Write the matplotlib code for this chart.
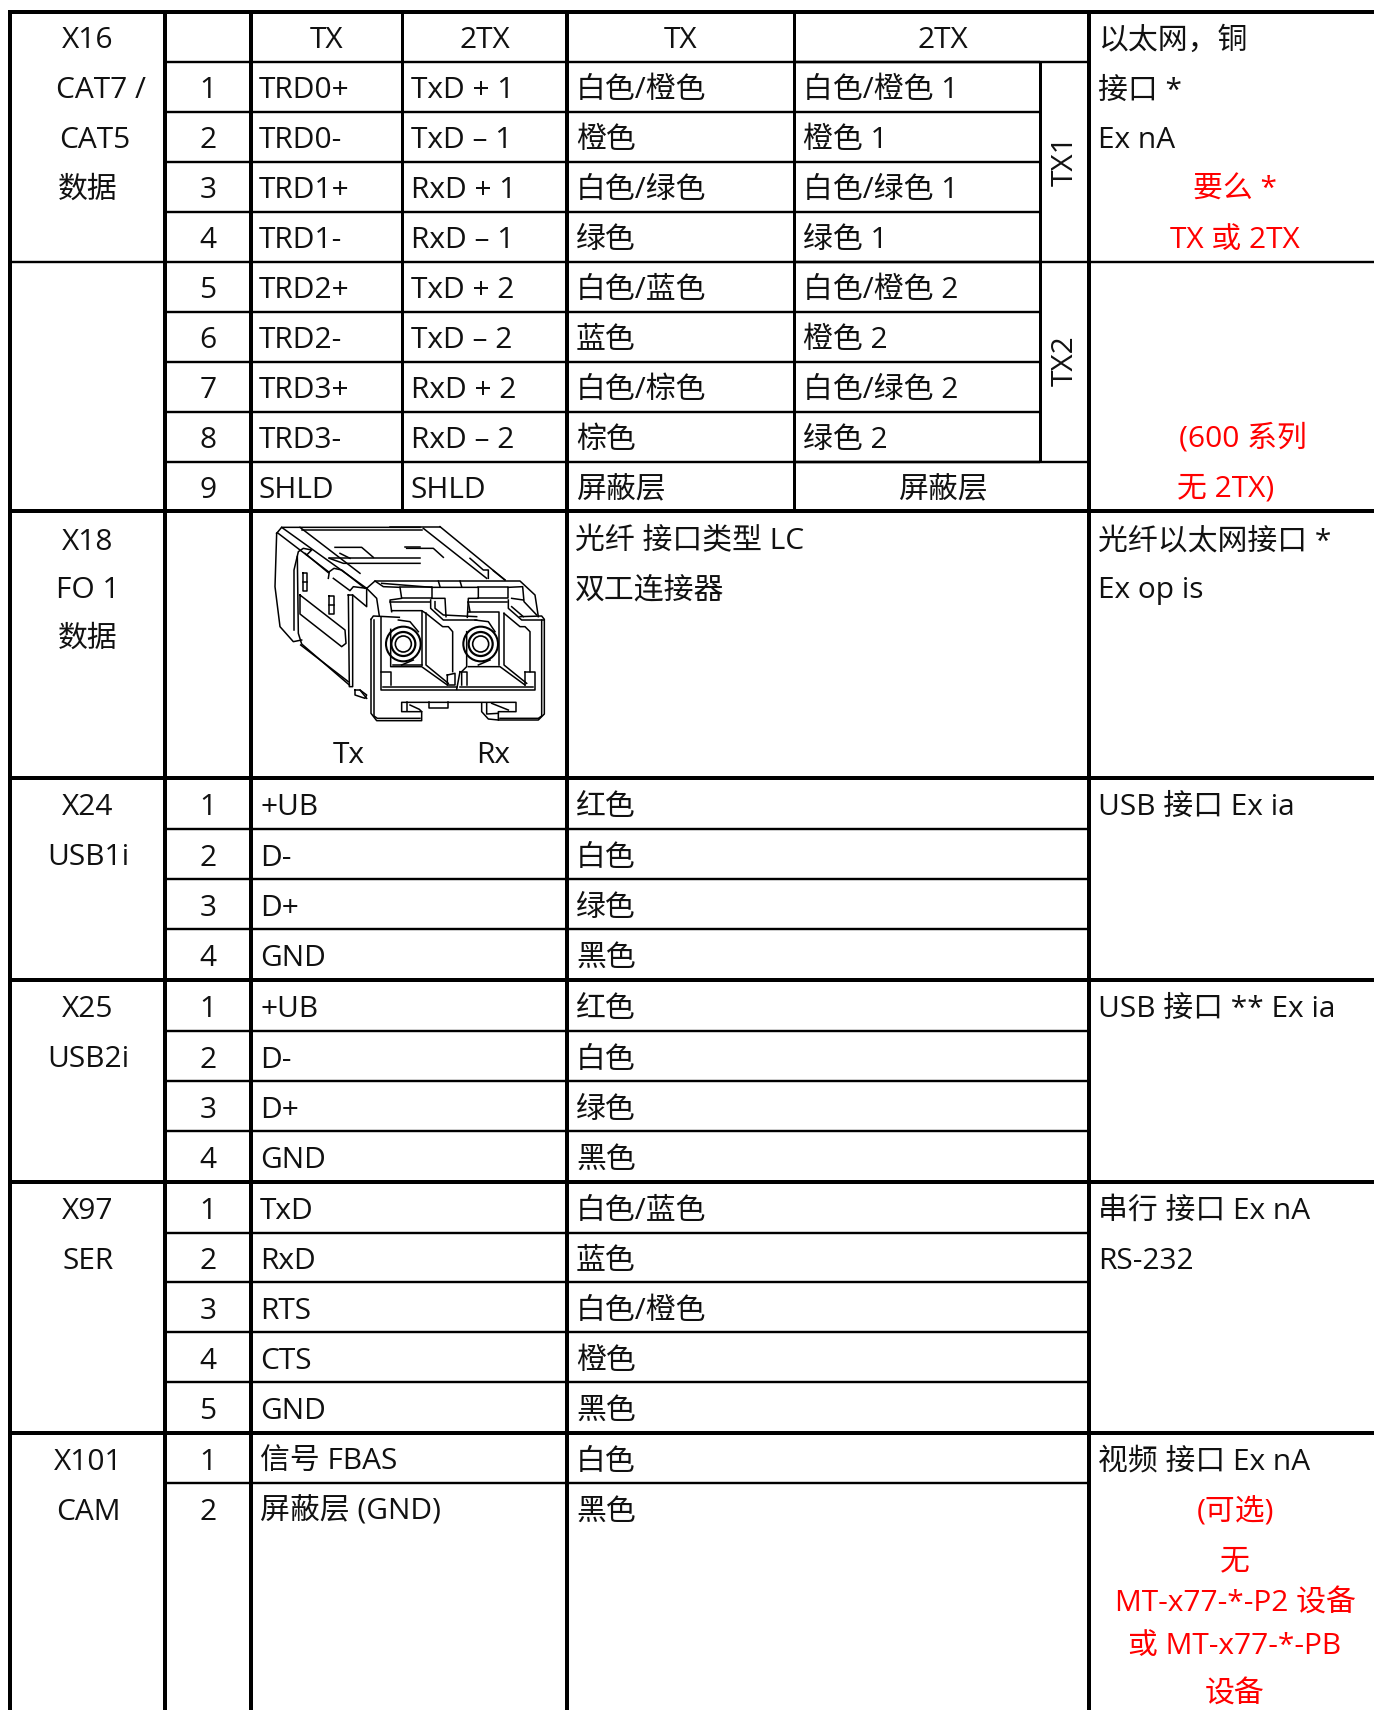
import matplotlib
matplotlib.use("Agg")
import matplotlib.pyplot as plt

plt.rcParams['font.family'] = ['Open Sans', 'Noto Sans CJK SC', 'DejaVu Sans']

# table contents
x16_pins = ['1', '2', '3', '4', '5', '6', '7', '8', '9']
x16_tx = ['TRD0+', 'TRD0-', 'TRD1+', 'TRD1-', 'TRD2+', 'TRD2-', 'TRD3+', 'TRD3-', 'SHLD']
x16_2tx = ['TxD + 1', 'TxD – 1', 'RxD + 1', 'RxD – 1', 'TxD + 2', 'TxD – 2', 'RxD + 2', 'RxD – 2', 'SHLD']
x16_col_tx = ['白色/橙色', '橙色', '白色/绿色', '绿色', '白色/蓝色', '蓝色', '白色/棕色', '棕色', '屏蔽层']
x16_col_2tx = ['白色/橙色 1', '橙色 1', '白色/绿色 1', '绿色 1', '白色/橙色 2', '橙色 2', '白色/绿色 2', '绿色 2']
usb_signals = ['+UB', 'D-', 'D+', 'GND']
usb_colors = ['红色', '白色', '绿色', '黑色']
ser_signals = ['TxD', 'RxD', 'RTS', 'CTS', 'GND']
ser_colors = ['白色/蓝色', '蓝色', '白色/橙色', '橙色', '黑色']
cam_signals = ['信号 FBAS', '屏蔽层 (GND)']
cam_colors = ['白色', '黑色']

RED = '#ff0000'
FS = 21.5
BASE = 10.5  # text centre to baseline, pixels

# column edges, row edges (pixels of the picture)
X = [10, 165, 251, 402, 567, 794, 1040, 1089, 1374]
Y = [12 + i * 49.95 for i in range(11)]
y18 = 778
Y24 = [778, 829, 879, 929, 980]
Y25 = [980, 1031, 1081, 1131, 1182]
Y97 = [1182, 1233, 1282, 1332, 1382, 1433]
Y101 = [1433, 1483, 1533]
BOTTOM = 1710

fig = plt.figure(figsize=(13.74, 17.10), dpi=100)
ax = fig.add_axes([0, 0, 1, 1])
ax.set_xlim(0, 1374)
ax.set_ylim(1710, 0)
ax.axis('off')


def hline(y, x0, x1, w=2.4):
    ax.plot([x0, x1], [y, y], color='black', lw=w * 0.72, solid_capstyle='butt')


def vline(x, y0, y1, w=4):
    ax.plot([x, x], [y0, y1], color='black', lw=w * 0.72, solid_capstyle='butt')


def txt(x, y, s, ha='left', color='#111111', **kw):
    ax.text(x, y + BASE, s, ha=ha, va='baseline', color=color, fontsize=FS, **kw)


def mid(col):
    return (X[col] + X[col + 1]) / 2


def pad(col):
    return X[col] + 9


# vertical lines
for x in [X[0], X[1], X[2]]:
    vline(x, 10, BOTTOM)
vline(X[3], 10, Y[10], 3)
vline(X[4], 10, BOTTOM, 4)
vline(X[5], 10, Y[10], 3)
vline(X[6], Y[1], Y[9], 3)
vline(X[7], 10, BOTTOM, 4)

# X16 block
hline(12, X[0] - 2, 1374, 4)
for y in Y[1:10]:
    hline(y, X[1], X[6])
hline(Y[1], X[5], X[7])
hline(Y[5], X[5], X[7])
hline(Y[9], X[5], X[7])
hline(Y[5], X[0], X[1])
hline(Y[5], X[7], 1374)
hline(Y[10], X[0], 1374, 4)
txt(mid(2), (Y[0] + Y[1]) / 2 + 1, 'TX', ha='center')
txt(mid(3), (Y[0] + Y[1]) / 2 + 1, '2TX', ha='center')
txt(mid(4), (Y[0] + Y[1]) / 2 + 1, 'TX', ha='center')
txt((X[5] + X[7]) / 2 + 1, (Y[0] + Y[1]) / 2 + 1, '2TX', ha='center')
for i in range(9):
    yc = (Y[i + 1] + Y[i + 2]) / 2 + 1
    txt(mid(1), yc, x16_pins[i], ha='center')
    txt(pad(2) - 1, yc, x16_tx[i])
    txt(pad(3), yc, x16_2tx[i])
    txt(pad(4), yc, x16_col_tx[i])
    if i < 8:
        txt(pad(5), yc, x16_col_2tx[i])
txt((X[5] + X[7]) / 2 + 1, (Y[9] + Y[10]) / 2 + 1, '屏蔽层', ha='center')
ax.text(1065, (Y[1] + Y[5]) / 2 - 1, 'TX1', rotation=90, ha='center', va='center', fontsize=FS, color='#111111')
ax.text(1065, (Y[5] + Y[9]) / 2 - 1, 'TX2', rotation=90, ha='center', va='center', fontsize=FS, color='#111111')
txt(88, 38, 'X16', ha='center')
txt(101, 88, 'CAT7 /', ha='center')
txt(95, 137, 'CAT5', ha='center')
txt(88, 187, '数据', ha='center')
txt(1098, 38, '以太网，铜')
txt(1098, 88, '接口 *')
txt(1098, 137, 'Ex nA')
txt(1235, 187, '要么 *', ha='center', color=RED)
txt(1235, 237, 'TX 或 2TX', ha='center', color=RED)
txt(1243, 436, '(600 系列', ha='center', color=RED)
txt(1226, 486, '无 2TX)', ha='center', color=RED)

# X18 block
hline(y18, X[0], 1374, 4)
txt(88, 539, 'X18', ha='center')
txt(88, 587, 'FO 1', ha='center')
txt(88, 636, '数据', ha='center')
txt(349, 752, 'Tx', ha='center')
txt(493, 752, 'Rx', ha='center')
txt(pad(4) - 1, 539, '光纤 接口类型 LC')
txt(pad(4) - 1, 588, '双工连接器')
txt(1098, 539, '光纤以太网接口 *')
txt(1098, 587, 'Ex op is')

body = (270, 520, [
    [(20, 40), (35, 22), (90, 22), (450, 22)],
    [(20, 40), (15, 200), (30, 320), (70, 365), (95, 360)],
    [(35, 22), (290, 205)],
    [(22, 38), (175, 155)],
    [(90, 22), (270, 160)],
    [(72, 330), (72, 150), (85, 95), (100, 85), (125, 90), (110, 105)],
    [(82, 110), (85, 340), (95, 372), (238, 495)],
    [(92, 375), (235, 485)],
    [(90, 225), (225, 330), (228, 370), (215, 380), (90, 282), (90, 225)],
    [(100, 160), (112, 160), (112, 212), (100, 212), (100, 160)],
    [(100, 185), (112, 185)],
    [(178, 228), (192, 228), (192, 282), (178, 282), (178, 228)],
    [(178, 255), (192, 255)],
    [(175, 175), (178, 155), (192, 145), (215, 150), (285, 205)],
    [(190, 175), (240, 212), (250, 200), (290, 205)],
    [(105, 100), (175, 158)],
    [(235, 225), (238, 500), (248, 500), (248, 225), (235, 225)],
    [(248, 225), (290, 260), (290, 205)],
    [(178, 115), (220, 130), (450, 130)],
    [(178, 115), (450, 115)],
    [(195, 82), (275, 82), (310, 112)],
    [(210, 100), (240, 115)],
    [(405, 82), (450, 82)],
    [(255, 510), (270, 510), (290, 525), (285, 535), (255, 525), (255, 510)],
])
top_right = (240, 500, [
    [(185, 90), (545, 90)],
    [(600, 80), (795, 240)],
    [(550, 85), (740, 235)],
    [(450, 80), (600, 80)],
    [(500, 145), (580, 145), (610, 172)],
    [(690, 175), (730, 210), (745, 210), (745, 235)],
    [(760, 212), (795, 240)],
])
front = (360, 570, [
    [(20, 55), (45, 33), (480, 33), (525, 75), (535, 140)],
    [(20, 55), (50, 85), (58, 138)],
    [(45, 33), (70, 50), (120, 52), (125, 85), (90, 90), (95, 125)],
    [(65, 40), (215, 52)],
    [(120, 52), (215, 52), (215, 85), (125, 85)],
    [(215, 52), (355, 52), (355, 85), (325, 85), (322, 142)],
    [(215, 85), (255, 85), (258, 140)],
    [(235, 33), (240, 50)],
    [(300, 33), (305, 50)],
    [(355, 52), (445, 52), (445, 85), (355, 85)],
    [(445, 52), (488, 50), (492, 95), (530, 135)],
    [(455, 85), (490, 90)],
    [(90, 97), (210, 97)],
    [(325, 97), (440, 97)],
    [(95, 122), (185, 122), (198, 130)],
    [(33, 148), (40, 138), (118, 142)],
    [(33, 148), (33, 430), (50, 452), (185, 452), (185, 425), (125, 425), (125, 397), (468, 397), (468, 425), (415, 425), (415, 450), (535, 450), (553, 432), (553, 148), (545, 138), (480, 140)],
    [(42, 150), (42, 438), (52, 445), (180, 445)],
    [(545, 150), (545, 438), (535, 445), (420, 445)],
    [(62, 142), (62, 360), (525, 360), (525, 305), (495, 305)],
    [(70, 350), (292, 350)],
    [(300, 350), (520, 350)],
    [(62, 305), (92, 305), (92, 345)],
    [(92, 178), (92, 290), (185, 290), (262, 345)],
    [(100, 285), (185, 285)],
    [(185, 122), (185, 285)],
    [(198, 130), (198, 285), (265, 340)],
    [(198, 130), (248, 170), (265, 170), (278, 185), (278, 305)],
    [(212, 90), (212, 115), (250, 150), (350, 150)],
    [(225, 95), (225, 115), (250, 135), (350, 140)],
    [(262, 315), (262, 345), (285, 345), (285, 310), (262, 315)],
    [(300, 305), (290, 358)],
    [(300, 305), (322, 305), (322, 345)],
    [(320, 185), (320, 290), (305, 305), (305, 345)],
    [(325, 290), (420, 290), (495, 345)],
    [(325, 125), (418, 125), (418, 285)],
    [(325, 97), (330, 125)],
    [(432, 130), (432, 285), (500, 340)],
    [(432, 130), (480, 170), (495, 170), (510, 185), (510, 305)],
    [(445, 90), (445, 115), (485, 150), (550, 150)],
    [(455, 110), (490, 140)],
    [(495, 305), (495, 345)],
    [(208, 397), (208, 413), (265, 413), (265, 397)],
    [(140, 397), (140, 422)],
    [(150, 405), (178, 418), (185, 425)],
    [(365, 400), (365, 425), (385, 447), (415, 450)],
    [(380, 400), (380, 432), (415, 430)],
    [(395, 400), (445, 420)],
    [(0, 360), (20, 385)],
    [(115, 150), (150, 155), (175, 185)],
    [(345, 150), (385, 155), (405, 185)],
    [(125, 285), (160, 270)],
    [(355, 285), (390, 270)],
])
for ox, oy, lines in [body, top_right, front]:
    for poly in lines:
        xs = [ox + p[0] / 3 for p in poly]
        ys = [oy + p[1] / 3 for p in poly]
        ax.plot(xs, ys, color='black', lw=1.1, solid_joinstyle='round')

# ferrule circles
for cx, cy in [(130, 222), (362, 222)]:
    for r, w in [(52, 1.5), (36, 1.6), (24, 1.2)]:
        ax.add_patch(plt.Circle((360 + cx / 3, 570 + cy / 3), r / 3, fill=False, ec='black', lw=w))


# plain pin blocks
def block(ys, signals, colors):
    for i in range(len(signals)):
        yc = (ys[i] + ys[i + 1]) / 2 + 1
        txt(mid(1), yc, str(i + 1), ha='center')
        txt(pad(2), yc, signals[i])
        txt(pad(4), yc, colors[i])
    for y in ys[1:len(signals)]:
        hline(y, X[1], X[7])


block(Y24, usb_signals, usb_colors)
hline(Y24[4], X[0], 1374, 4)
txt(88, 804, 'X24', ha='center')
txt(88, 854, 'USB1i', ha='center')
txt(1098, 804, 'USB 接口 Ex ia')

block(Y25, usb_signals, usb_colors)
hline(Y25[4], X[0], 1374, 4)
txt(88, 1006, 'X25', ha='center')
txt(88, 1056, 'USB2i', ha='center')
txt(1098, 1006, 'USB 接口 ** Ex ia')

block(Y97, ser_signals, ser_colors)
hline(Y97[5], X[0], 1374, 4)
txt(88, 1208, 'X97', ha='center')
txt(88, 1258, 'SER', ha='center')
txt(1098, 1208, '串行 接口 Ex nA')
txt(1098, 1258, 'RS-232')

block(Y101, cam_signals, cam_colors)
txt(88, 1459, 'X101', ha='center')
txt(88, 1509, 'CAM', ha='center')
txt(1098, 1459, '视频 接口 Ex nA')
txt(1235, 1510, '(可选)', ha='center', color=RED)
txt(1235, 1559, '无', ha='center', color=RED)
txt(1235, 1601, 'MT-x77-*-P2 设备', ha='center', color=RED)
txt(1235, 1643, '或 MT-x77-*-PB', ha='center', color=RED)
txt(1235, 1692, '设备', ha='center', color=RED)

fig.savefig('out.png', dpi=100, facecolor='white')
